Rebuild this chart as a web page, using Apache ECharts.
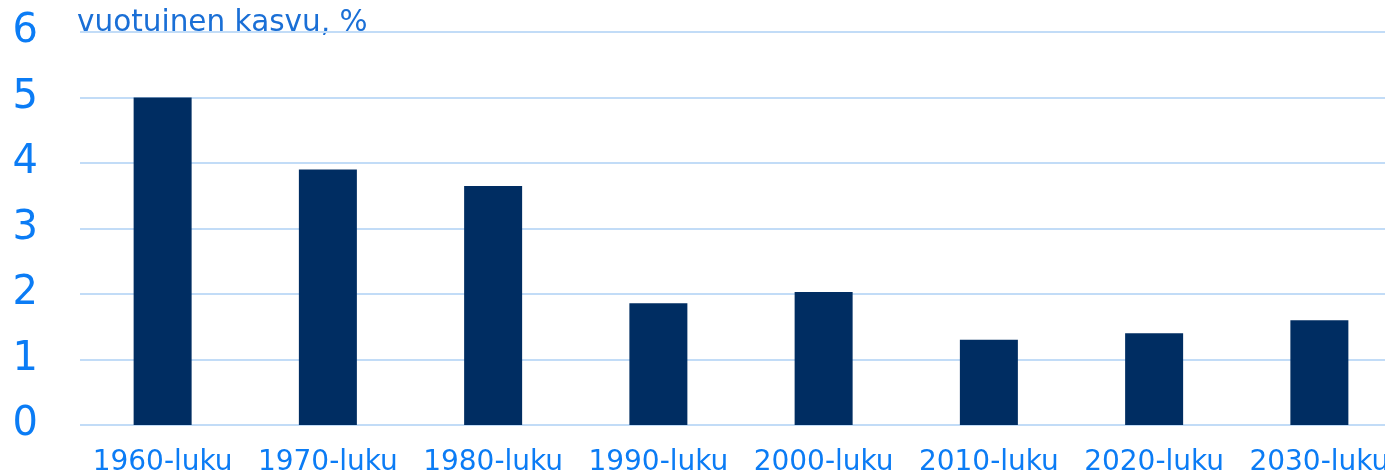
<!DOCTYPE html>
<html>
<head>
<meta charset="utf-8">
<script src="https://cdn.jsdelivr.net/npm/echarts@6/dist/echarts.min.js"></script>
<style>
  html, body { margin: 0; padding: 0; background: #fff; }
  #chart { width: 1385px; height: 475px; }
</style>
</head>
<body>
<div id="chart"></div>
<script>
const categories = ["1960-luku", "1970-luku", "1980-luku", "1990-luku", "2000-luku", "2010-luku", "2020-luku", "2030-luku"];
const growth = [5.0, 3.9, 3.65, 1.86, 2.03, 1.3, 1.4, 1.6];
const yTicks = [0, 1, 2, 3, 4, 5, 6];

const chart = echarts.init(document.getElementById("chart"));
chart.setOption({
  animation: false,
  graphic: [
    {
      type: "text",
      x: 77,
      y: 8,
      style: {
        text: "vuotuinen kasvu, %",
        font: "29.5px 'DejaVu Sans'",
        fill: "#1a6fd6",
      },
    },
  ],
  grid: {
    left: 80,
    right: -17,
    top: 32,
    bottom: 50,
    containLabel: false,
    outerBoundsMode: "none",
  },
  xAxis: {
    type: "category",
    data: categories,
    axisLine: { show: false },
    axisTick: { show: false },
    axisLabel: {
      interval: 0,
      margin: 24,
      fontFamily: "DejaVu Sans",
      fontSize: 28,
      color: "#0b7cf5",
    },
  },
  yAxis: {
    type: "value",
    min: yTicks[0],
    max: yTicks[yTicks.length - 1],
    interval: 1,
    axisLine: { show: false },
    axisTick: { show: false },
    axisLabel: {
      margin: 42,
      fontFamily: "DejaVu Sans",
      fontSize: 40,
      color: "#0b7cf5",
    },
    splitLine: {
      lineStyle: { color: "#c2dcf7", width: 2 },
    },
  },
  series: [
    {
      type: "bar",
      data: growth,
      barWidth: 58,
      itemStyle: {
        color: "#002d62",
      },
    },
  ],
});
</script>
</body>
</html>
